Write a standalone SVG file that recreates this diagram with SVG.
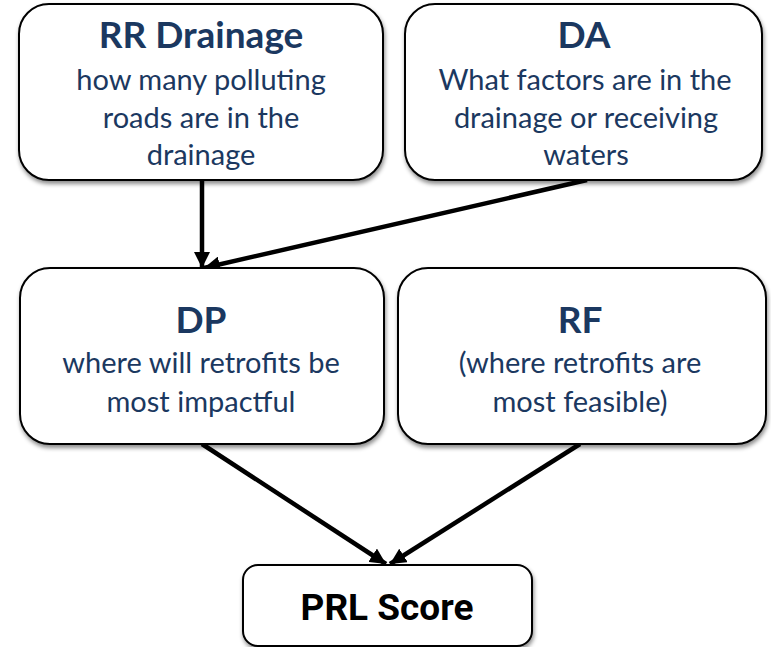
<svg xmlns="http://www.w3.org/2000/svg" width="771" height="647" viewBox="0 0 771 647">
<defs>
<style>
.box{fill:#fff;stroke:#000;stroke-width:2;filter:url(#sh)}
.t{font-family:Lato,"Noto Sans",sans-serif;font-weight:bold;font-size:37px;fill:#1b3860;text-anchor:middle}
.b{font-family:Lato,"Noto Sans",sans-serif;font-size:29px;fill:#1b3860;text-anchor:middle}
.p{font-family:Roboto,"Liberation Sans",sans-serif;font-weight:bold;font-size:37px;fill:#000;text-anchor:middle}
.c{stroke:#000;stroke-width:4.5;fill:none;marker-end:url(#ah)}
</style>
<filter id="sh" x="-10%" y="-10%" width="120%" height="130%">
<feDropShadow dx="1" dy="3" stdDeviation="2" flood-color="#000" flood-opacity="0.45"/>
</filter>
<marker id="ah" markerUnits="userSpaceOnUse" markerWidth="18" markerHeight="16" refX="16" refY="8" orient="auto">
<path d="M0,0 L16,8 L0,16 Z" fill="#000"/>
</marker>
</defs>
<g id="connectors">
<line class="c" x1="202" y1="180" x2="202" y2="268"/>
<line class="c" x1="587" y1="180" x2="204" y2="268"/>
<line class="c" x1="202" y1="444" x2="386" y2="564"/>
<line class="c" x1="580" y1="444" x2="390" y2="564"/>
</g>
<g id="rr">
<rect class="box" x="19" y="4" width="364" height="176" rx="30"/>
<text class="t" x="201" y="48">RR Drainage</text>
<text class="b" x="201" y="90">how many polluting</text>
<text class="b" x="201" y="128">roads are in the</text>
<text class="b" x="201" y="165">drainage</text>
</g>
<g id="da">
<rect class="box" x="405" y="4" width="357" height="176" rx="30"/>
<text class="t" x="584" y="48">DA</text>
<text class="b" x="585" y="90">What factors are in the</text>
<text class="b" x="586" y="128">drainage or receiving</text>
<text class="b" x="586" y="165">waters</text>
</g>
<g id="dp">
<rect class="box" x="20" y="268" width="364" height="176" rx="30"/>
<text class="t" x="201" y="333">DP</text>
<text class="b" x="201" y="373">where will retrofits be</text>
<text class="b" x="201" y="412">most impactful</text>
</g>
<g id="rf">
<rect class="box" x="398" y="268" width="368" height="176" rx="30"/>
<text class="t" x="580" y="333">RF</text>
<text class="b" x="580" y="373">(where retrofits are</text>
<text class="b" x="580" y="412">most feasible)</text>
</g>
<g id="prl">
<rect class="box" x="243" y="565" width="289" height="81" rx="15"/>
<text class="p" x="387" y="620">PRL Score</text>
</g>
</svg>
